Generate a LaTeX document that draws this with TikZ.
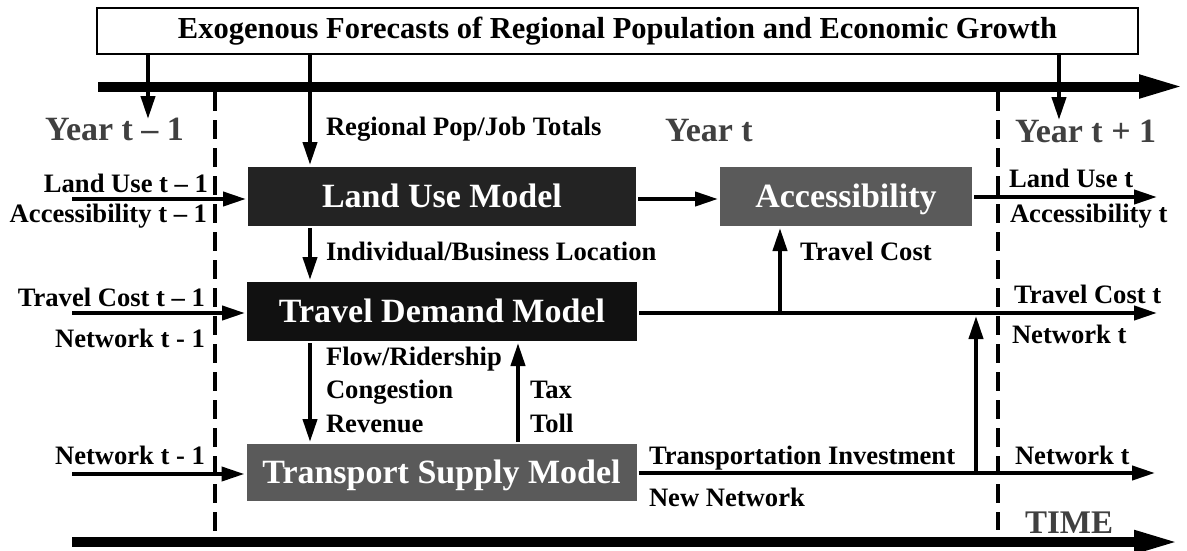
\documentclass[tikz,border=0pt]{standalone}
\usepackage{fontspec}
\setmainfont{Liberation Serif}
\usetikzlibrary{arrows.meta}
\definecolor{yeargray}{HTML}{404040}
\definecolor{luse}{HTML}{232323}
\definecolor{tdemand}{HTML}{111111}
\definecolor{tsupply}{HTML}{5A5A5A}

\begin{document}
\begin{tikzpicture}
	[x=1pt, y=-1pt, line width=4pt,
	flow/.style={-{Triangle[length=23pt,width=14pt]}},
	timeline/.style={line width=10pt, -{Triangle[length=46pt,width=21pt]}},
	yeardash/.style={dash pattern=on 19pt off 9pt},
	model/.style={text=white, inner sep=0pt, minimum width=390pt, minimum height=59pt,
		text height=22.5pt, text depth=0pt, font=\fontsize{34}{34}\selectfont\bfseries},
	lbl/.style={inner sep=0pt, font=\fontsize{26.6}{26.6}\selectfont\bfseries},
	yearlbl/.style={inner sep=0pt, text=yeargray, font=\fontsize{34}{34}\selectfont\bfseries}]
	\useasboundingbox (0,0) rectangle (1187,550);
	% forecasts and time axes
	\node[draw, line width=2pt, minimum width=1041pt, minimum height=46pt, inner sep=0pt,
		font=\fontsize{30.5}{30.5}\selectfont\bfseries] (exo) at (617.5,31)
		{Exogenous Forecasts of Regional Population and Economic Growth};
	\coordinate (top0) at (98,86.5);
	\coordinate (top1) at (1185,86.5);
	\coordinate (bot0) at (72,542);
	\coordinate (bot1) at (1180,542);
	\draw[timeline] (top0) -- (top1);
	\draw[timeline] (bot0) -- (bot1);
	\foreach \x/\yend in {215/533, 998/530}
		\draw[yeardash] (\x,92) -- (\x,\yend);
	% years
	\node[yearlbl, anchor=base east] (yprev) at (186,140) {Year t -- 1};
	\node[yearlbl, anchor=base west] (ycur) at (663,141) {Year t};
	\node[yearlbl, anchor=base west] (ynext) at (1013,142) {Year t + 1};
	\node[yearlbl, anchor=base west, font=\fontsize{33}{33}\selectfont\bfseries] (time) at (1023,533) {TIME};
	\coordinate (prevtip) at (148,119);
	\coordinate (nexttip) at (1059,120);
	\draw[flow] (exo.south -| prevtip) -- (prevtip);
	\draw[flow] (exo.south -| nexttip) -- (nexttip);
	% models
	\node[model, fill=luse, minimum width=388pt] (lum) at (442,196.5) {Land Use Model};
	\node[model, fill=tsupply, minimum width=252pt] (acc) at (846,196.5) {Accessibility};
	\node[model, fill=tdemand] (tdm) at (442,311.5) {Travel Demand Model};
	\node[model, fill=tsupply, minimum height=57pt] (tsm) at (441.5,472.5) {Transport Supply Model};
	% inputs from year t-1
	\coordinate (luin) at (72,199);
	\coordinate (tcin) at (72,313);
	\coordinate (nwin) at (72,474);
	\draw[flow] (luin) -- (luin -| lum.west);
	\draw[flow] (tcin) -- (tcin -| tdm.west);
	\draw[flow] (nwin) -- (nwin -| tsm.west);
	\node[lbl, anchor=base east] at (210,192) {Land Use t -- 1};
	\node[lbl, anchor=base east] at (209,222) {Accessibility t -- 1};
	\node[lbl, anchor=base east] at (207,306) {Travel Cost t -- 1};
	\node[lbl, anchor=base east] at (207,347) {Network t - 1};
	\node[lbl, anchor=base east] at (207,464) {Network t - 1};
	% links inside year t
	\coordinate (lumx) at (310,0);
	\coordinate (taxx) at (518,0);
	\draw[flow] (exo.south -| lumx) -- (lum.north -| lumx);
	\draw[flow] (lum.south -| lumx) -- (tdm.north -| lumx);
	\draw[flow] (tdm.south -| lumx) -- (tsm.north -| lumx);
	\draw[flow] (tsm.north -| taxx) -- (tdm.south -| taxx);
	\draw[flow] (lum.east |- luin) -- (acc.west |- luin);
	\node[lbl, anchor=base west] at (324,135) {Regional Pop/Job Totals};
	\node[lbl, anchor=base west] at (324,260) {Individual/Business Location};
	\node[lbl, anchor=base west] at (324,365) {Flow/Ridership};
	\node[lbl, anchor=base west] at (324,398) {Congestion};
	\node[lbl, anchor=base west] at (324,432) {Revenue};
	\node[lbl, anchor=base west] at (528,398) {Tax};
	\node[lbl, anchor=base west] at (528,432) {Toll};
	% outputs to year t+1
	\coordinate (luout) at (1157,197);
	\coordinate (tcout) at (1157,313);
	\coordinate (nwout) at (1155,473);
	\coordinate (tcjoin) at (780,313);
	\coordinate (invfoot) at (976,473);
	\coordinate (invtop) at (976,316);
	\draw[flow] (acc.east |- luout) -- (luout);
	\draw[flow] (tdm.east |- tcout) -- (tcout);
	\draw[flow] (tsm.east |- nwout) -- (nwout);
	\draw[flow] (tcjoin) -- (tcjoin |- acc.south);
	\draw[flow] (invfoot) -- (invtop);
	\node[lbl, anchor=base west] at (798,260) {Travel Cost};
	\node[lbl, anchor=base west] at (647,464) {Transportation Investment};
	\node[lbl, anchor=base west] at (647,506) {New Network};
	\node[lbl, anchor=base west] at (1007,187) {Land Use t};
	\node[lbl, anchor=base west] at (1008,222) {Accessibility t};
	\node[lbl, anchor=base west] at (1012,303) {Travel Cost t};
	\node[lbl, anchor=base west] at (1010,343) {Network t};
	\node[lbl, anchor=base west] at (1013,464) {Network t};
	\end{tikzpicture}
\end{document}
